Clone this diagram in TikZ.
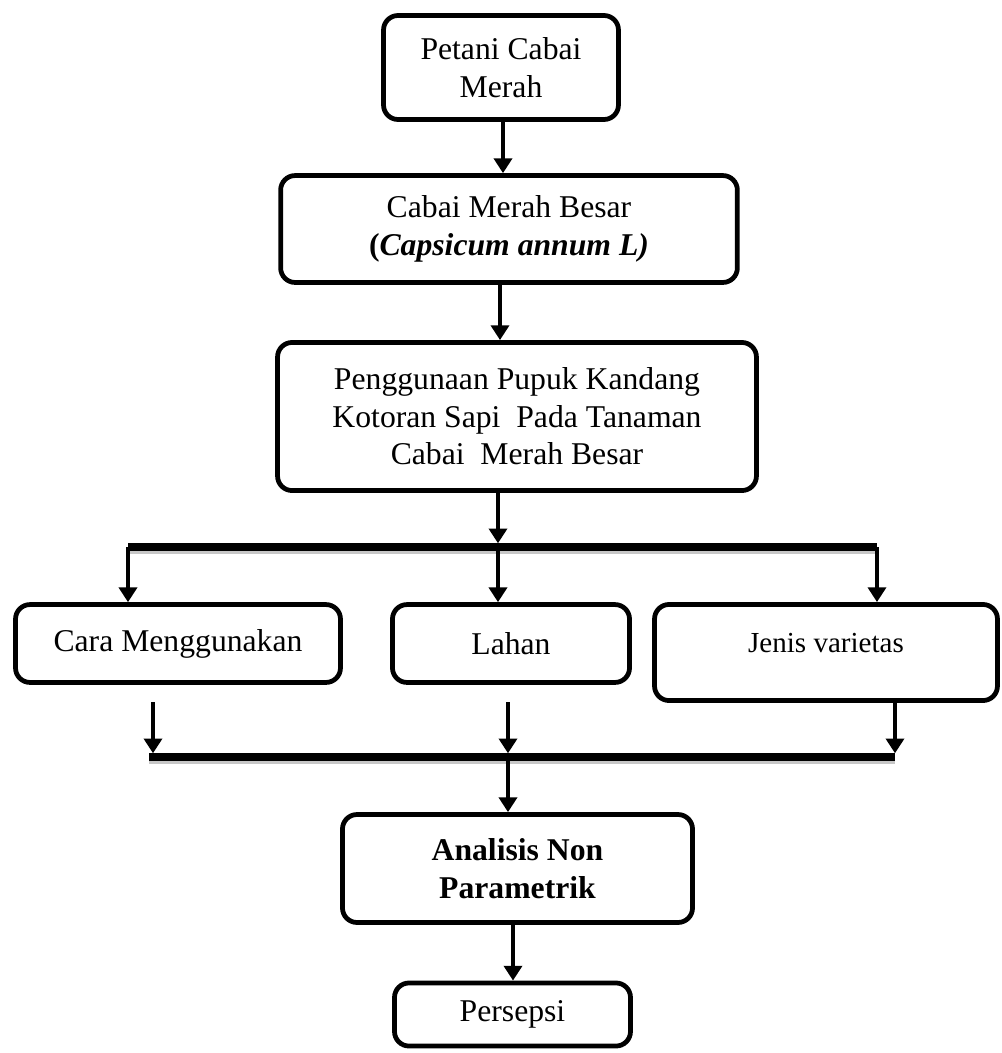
\documentclass[tikz,border=0pt]{standalone}
\usepackage{fontspec}
\setmainfont{Liberation Serif}
\usetikzlibrary{arrows.meta}
\begin{document}
\begin{tikzpicture}[x=0.3788pt, y=-0.3788pt,
  box/.style={draw, line width=1.8pt, rounded corners=5.5pt, align=center,
    inner sep=0pt, font=\fontsize{12}{14.2}\selectfont},
  arr/.style={line width=1.8pt, -{Triangle[width=6.8pt,length=5.6pt]}},
  bar/.style={line width=2.8pt},
  barshadow/.style={line width=2.2pt, black!22}]
\useasboundingbox (0,0) rectangle (1002,1053);

% boxes
\node[box, minimum width=89pt, minimum height=39.4pt] (petani) at (501,67.5)
  {Petani Cabai\\Merah};
\node[box, minimum width=173pt, minimum height=40.5pt] (cabai) at (509,229)
  {Cabai Merah Besar\\\textbf{(\textit{Capsicum annum L)}}};
\node[box, minimum width=181.4pt, minimum height=56.1pt] (pupuk) at (517,416.5)
  {Penggunaan Pupuk Kandang\\Kotoran Sapi~ Pada Tanaman\\Cabai~ Merah Besar};
\node[box, minimum width=123.1pt, minimum height=29.5pt] (cara) at (178,643.5)
  {Cara Menggunakan};
\node[box, minimum width=89.8pt, minimum height=29.5pt] (lahan) at (511,643.5)
  {Lahan};
\node[box, minimum width=129.9pt, minimum height=36.4pt, text depth=7pt,
  font=\fontsize{11}{13}\selectfont] (jenis) at (826,652.5)
  {Jenis varietas};
\node[box, minimum width=132.6pt, minimum height=40.9pt,
  font=\fontsize{12}{14.4}\selectfont\bfseries] (analisis) at (517.5,868.5)
  {Analisis Non\\Parametrik};
\node[box, minimum width=89.4pt, minimum height=23.9pt] (persepsi) at (512.5,1014.5)
  {Persepsi};

% helper coordinates
\coordinate (x1) at (503,0);
\coordinate (x2) at (500,0);
\coordinate (tl) at (128,547);
\coordinate (tm) at (498,547);
\coordinate (tr) at (877,547);
\coordinate (bl) at (149,757);
\coordinate (bm) at (508,757);
\coordinate (br) at (895,757);
\coordinate (caraout) at (153,702);
\coordinate (lahanout) at (508,702);
\coordinate (x3) at (513,0);

% bars with soft shadow
\draw[barshadow] ([yshift=-1.6pt]tl) -- ([yshift=-1.6pt]tr);
\draw[barshadow] ([yshift=-1.6pt]bl) -- ([yshift=-1.6pt]br);
\draw[bar] (tl) -- (tr);
\draw[bar] (bl) -- (br);

% connectors
\draw[arr] (petani.south -| x1) -- (cabai.north -| x1);
\draw[arr] (cabai.south -| x2) -- (pupuk.north -| x2);
\draw[arr] (pupuk.south -| tm) -- ([yshift=1.4pt]tm);
\draw[arr] (tl) -- (tl |- cara.north);
\draw[arr] (tm) -- (tm |- lahan.north);
\draw[arr] (tr) -- (tr |- jenis.north);
\draw[arr] (caraout) -- ([yshift=1.4pt]caraout |- bl);
\draw[arr] (lahanout) -- ([yshift=1.4pt]bm);
\draw[arr] (jenis.south -| br) -- ([yshift=1.4pt]br);
\draw[arr] (bm) -- (bm |- analisis.north);
\draw[arr] (analisis.south -| x3) -- (persepsi.north -| x3);
\end{tikzpicture}
\end{document}
